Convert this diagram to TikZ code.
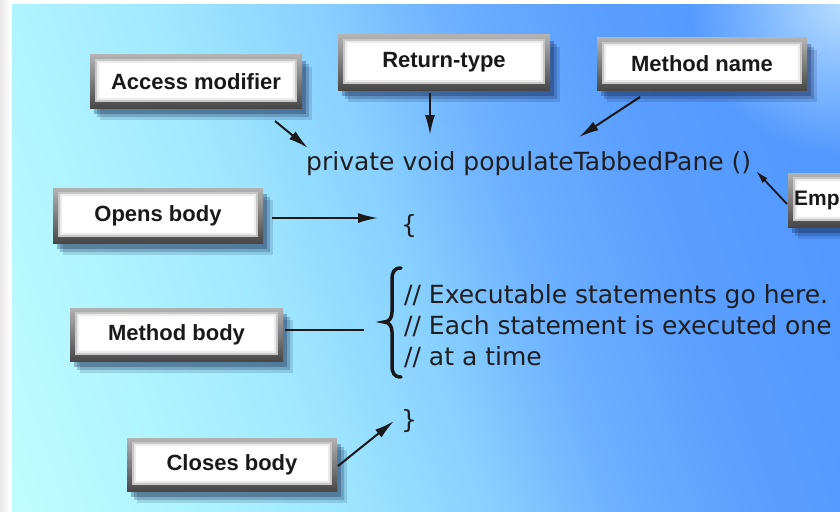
\documentclass[tikz,border=0pt]{standalone}
\usepackage{fontspec}
\usetikzlibrary{arrows.meta,shadows,fadings}
\newfontfamily\lblf{Liberation Sans}
\newfontfamily\codef{DejaVu Sans}
\definecolor{bga}{HTML}{C2FDFF}
\definecolor{bgb}{HTML}{B0F4FF}
\definecolor{bgc}{HTML}{A0E8FF}
\definecolor{bgd}{HTML}{88D0FF}
\definecolor{bge}{HTML}{6CB0FF}
\definecolor{bgf}{HTML}{5A9EFF}
\definecolor{bgg}{HTML}{5299FF}
\definecolor{hl}{HTML}{B4DCFF}
\definecolor{shadowc}{HTML}{10204A}
\pgfdeclarehorizontalshading{bgsh}{100bp}{color(0bp)=(bga); color(25bp)=(bga); color(33.7bp)=(bgb); color(41.3bp)=(bgc); color(49bp)=(bgd); color(55.1bp)=(bge); color(62.2bp)=(bgf); color(69.4bp)=(bgg); color(75bp)=(bgg); color(100bp)=(bgg)}
\tikzfading[name=hlfade, inner color=transparent!0, outer color=transparent!100]
\begin{document}
\begin{tikzpicture}[x=1pt,y=-1pt,
  lbl/.style={font=\lblf\bfseries\fontsize{22}{26}\selectfont, text=black!90, inner sep=0pt,
    top color=black!30, bottom color=black!72,
    drop shadow={shadow xshift=10pt, shadow yshift=-12pt, opacity=0.15, fill=shadowc},
    drop shadow={shadow xshift=7pt, shadow yshift=-9pt, opacity=0.22, fill=shadowc},
    drop shadow={shadow xshift=4pt, shadow yshift=-6pt, opacity=0.3, fill=shadowc},
    path picture={
      \fill[black!22] ([shift={(5pt,-4pt)}]path picture bounding box.north west) rectangle ([shift={(-5pt,6pt)}]path picture bounding box.south east);
      \fill[black!8] ([shift={(7pt,-6pt)}]path picture bounding box.north west) rectangle ([shift={(-7pt,8pt)}]path picture bounding box.south east);
      \fill[white] ([shift={(9pt,-8pt)}]path picture bounding box.north west) rectangle ([shift={(-9pt,10pt)}]path picture bounding box.south east);
    }},
  code/.style={font=\codef\fontsize{25}{30}\selectfont, text=black!88, inner sep=0pt},
  arr/.style={line width=2pt, draw=black!90, -{Latex[length=20pt,width=10pt]}},
  arrsmall/.style={line width=1.8pt, draw=black!90, -{Latex[length=13pt,width=7pt]}},
  plainline/.style={line width=2pt, draw=black!90}
]
\useasboundingbox (0,0) rectangle (840,511);
\fill[white] (0,0) rectangle (840,511);
\shade[left color=black!9, right color=white] (0,0) rectangle (10,511);
\begin{scope}
  \clip (12,5) rectangle (840,511);
  \begin{scope}[transform canvas={rotate=19}]
    \shade[shading=bgsh] (-170,-900) rectangle (810,900);
  \end{scope}
  \fill[hl, path fading=hlfade] (840,5) circle (150);
\end{scope}
\clip (0,0) rectangle (840,511);

% label boxes
\node[lbl, minimum width=212pt, minimum height=53pt] (acc) at (196,81.5) {Access modifier};
\node[lbl, minimum width=212pt, minimum height=55pt] (ret) at (444,62.5) {Return-type};
\node[lbl, minimum width=210pt, minimum height=52pt] (meth) at (702,64) {Method name};
\node[lbl, minimum width=210pt, minimum height=54pt, anchor=west, text width=198pt, align=left, inner xsep=6pt, font=\lblf\bfseries\fontsize{21}{26}\selectfont] (emp) at (788,200) {Emp};
\node[lbl, minimum width=210pt, minimum height=55pt] (opens) at (158,215.5) {Opens body};
\node[lbl, minimum width=213pt, minimum height=53pt] (mbody) at (176.5,334.5) {Method body};
\node[lbl, minimum width=210pt, minimum height=53pt] (closes) at (232,464.5) {Closes body};

% code
\node[code, anchor=base west] (sig) at (306,170) {private void populateTabbedPane ()};
\node[code] (ob) at (409,226) {\{};
\node[code, anchor=base west] (l1) at (404,303) {// Executable statements go here.};
\node[code, anchor=base west] (l2) at (404,334) {// Each statement is executed one};
\node[code, anchor=base west] (l3) at (404,365) {// at a time};
\node[code] (cb) at (409,421) {\}};

% big brace
\draw[line width=3.5pt, line cap=round, draw=black!90]
  (401,268) .. controls (394,268) and (392,272) .. (392,280) -- (392,312)
  .. controls (392,318) and (389,322) .. (384,322)
  .. controls (389,322) and (392,326) .. (392,332) -- (392,365)
  .. controls (392,373) and (394,377) .. (401,377);
\coordinate (braceTip) at (364,330);

% connector end points
\coordinate (accS) at (275,121);
\coordinate (accE) at (308,148);
\coordinate (retS) at (430,93);
\coordinate (retE) at (430,135);
\coordinate (methS) at (640,97);
\coordinate (methE) at (579,137);
\coordinate (empS) at (787,204);
\coordinate (empE) at (756,171);
\coordinate (opS) at (272,218);
\coordinate (opE) at (378,218);
\coordinate (mbS) at (285,330);
\coordinate (clS) at (338,466);
\coordinate (clE) at (394,421);

\draw[arr] (accS) -- (accE);
\draw[arr] (retS) -- (retE);
\draw[arr] (methS) -- (methE);
\draw[arrsmall] (empS) -- (empE);
\draw[arr] (opS) -- (opE);
\draw[plainline] (mbS) -- (braceTip);
\draw[arr] (clS) -- (clE);
\end{tikzpicture}
\end{document}
